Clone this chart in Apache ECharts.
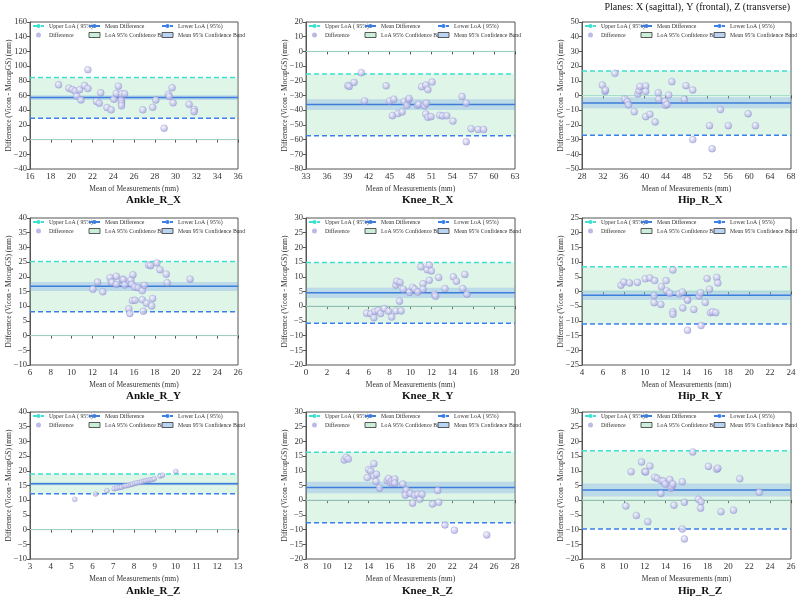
<!DOCTYPE html>
<html>
<head>
<meta charset="utf-8">
<script src="https://cdn.jsdelivr.net/npm/echarts@6/dist/echarts.min.js"></script>
<style>
  html, body { margin: 0; padding: 0; background: #fff; }
  #chart { width: 799px; height: 604px; }
</style>
</head>
<body>
<div id="chart"></div>
<script>
///////////////////////
// data
///////////////////////

const panelTitles = ['Ankle_R_X', 'Knee_R_X', 'Hip_R_X',
                     'Ankle_R_Y', 'Knee_R_Y', 'Hip_R_Y',
                     'Ankle_R_Z', 'Knee_R_Z', 'Hip_R_Z'];

// mean of measurements (x) / difference (y), one pair per panel
const ankleRX_mean = [18.75, 21.57, 19.74, 20.06, 20.35, 20.77, 21.25, 21.57, 20.5, 20.9, 22.4, 22.66, 22.8, 23.4, 23.8, 24.06, 24.3, 24.5, 24.77, 24.8, 24.8, 24.8, 24.8, 25.1, 26.85, 27.8, 28.1, 28.9, 29.3, 29.4, 29.66, 29.76, 31.3, 31.8, 31.78];
const ankleRX_diff = [74.5, 95, 70, 68, 66, 67.7, 73.6, 69.5, 59, 54, 52, 49.5, 63.6, 43.6, 40.5, 55, 62.7, 72.7, 54, 62.3, 52, 49, 46, 62.3, 40.5, 44, 54, 15.5, 61.4, 58.6, 70.5, 50, 48, 41, 38];

const kneeRX_mean = [39, 39.2, 39.9, 40.95, 41.4, 44.5, 45, 45.6, 45.4, 46.2, 46.8, 47.1, 47.5, 47.7, 47.8, 49, 49.2, 49.6, 50.2, 50.5, 50, 50.3, 50.2, 50.5, 50.95, 51.1, 52.2, 52.6, 53.2, 54.1, 55.4, 56, 56, 56.7, 57.7, 58.5];
const kneeRX_diff = [-23.2, -23.8, -21.1, -14.5, -33.7, -23.4, -33.7, -32.5, -43.7, -42.3, -41.2, -34.1, -36.6, -33, -32, -36.6, -36, -24, -22.9, -26, -37, -35.3, -42.6, -44.8, -44.4, -20.9, -43.5, -43.9, -43.7, -47.4, -30.7, -35.2, -61.5, -52.6, -53.1, -53.1];

const hipRX_mean = [31.9, 32.4, 32.5, 34.3, 36.2, 36.7, 36.9, 38, 38.7, 38.9, 39.1, 40.2, 40.2, 40.2, 41, 42, 42.6, 42.7, 43.9, 44, 44.3, 44.6, 45.2, 47.6, 47.9, 49.2, 49.2, 52.4, 52.9, 54.5, 56, 59.8, 61.2];
const hipRX_diff = [7.1, 2.8, 3.7, 15.1, -2.3, -4.2, -6.5, -11, 1.1, 3.2, 6.2, 6.5, 2.8, -14.4, -12.8, -18, 1.8, -2.6, -4, -6.7, -6, 0.3, 9.4, -2.6, 6.7, 3.7, -30, -20.5, -36.2, -9.6, -20.5, -12.4, -20.5];

const ankleRY_mean = [12.05, 12.5, 13, 13.7, 13.8, 13.9, 14.3, 14.3, 14.9, 14.9, 15, 15.1, 15.5, 15.6, 15.7, 15.8, 15.9, 15.85, 16.1, 16.05, 16.4, 16.8, 16.8, 16.9, 17, 17.2, 17.4, 17.6, 17.7, 17.8, 18.2, 18.5, 19.1, 19.2, 21.4];
const ankleRY_diff = [15.8, 18.2, 14.9, 19.7, 18.3, 18.1, 20.2, 17.4, 18.8, 19.2, 19, 17.2, 9.1, 7.5, 19, 17.4, 20.7, 11.9, 12, 16.5, 16.3, 12.2, 15.3, 8.3, 17.1, 11, 24, 23.8, 10.1, 12.6, 24.7, 22.4, 20.9, 18, 19.2];

const kneeRY_mean = [5.8, 6.2, 6.5, 6.6, 6.9, 7.15, 7.5, 7.9, 8.2, 8.6, 8.6, 8.7, 9, 8.95, 9.1, 9.3, 9.9, 10.2, 10.4, 10.7, 11, 11.2, 11.2, 11.6, 11.8, 11.8, 12, 12.3, 12.4, 12.7, 13.3, 14.1, 14.4, 15, 15.2, 15.4];
const kneeRY_diff = [-2.4, -2.6, -3.9, -1.8, -1.5, -2.5, -0.8, -1.7, -3.7, -1.6, 7.2, 8.5, 8.1, 1.7, -1.6, 5.8, 4.7, 6.4, 5.8, 4.8, 13.4, 7.6, 5.8, 12.4, 14, 8.8, 12, 4.1, 3.4, 9.8, 6, 10, 8.5, 6, 10.8, 4.1];

const hipRY_mean = [7.73, 8, 8.55, 9.3, 10.05, 10.5, 10.95, 10.9, 10.9, 11.55, 11.6, 12.05, 12.1, 12.4, 12.7, 12.7, 12.7, 13.3, 13.6, 13.65, 14.1, 14.1, 14.1, 14.7, 15.2, 15.35, 15.4, 15.8, 15.97, 16.2, 16.3, 16.5, 16.8, 16.9, 17];
const hipRY_diff = [2.1, 3.2, 2.9, 3.1, 4.3, 4.6, 3.7, -1.4, -3.8, -4.4, 1.6, 3.7, 0.2, -0.6, 7.3, -6.9, -7.7, -0.85, -0.2, -5.6, -2.7, -3, -13.2, -6.1, -1.5, -0.4, -11.6, -3.7, 4.4, 0.8, -7.2, -6.9, -7.2, 4.8, 2.9];

const ankleRZ_mean = [5.15, 6.15, 6.7, 7.05, 7.17, 7.3, 7.4, 7.53, 7.62, 7.74, 7.85, 7.93, 8.04, 8.14, 8.26, 8.36, 8.47, 8.57, 8.68, 8.78, 8.87, 8.97, 9.26, 9.37, 10.01];
const ankleRZ_diff = [10.3, 12.1, 13.2, 13.9, 14.1, 14.3, 14.4, 14.8, 14.9, 15.1, 15.3, 15.45, 15.7, 15.9, 16, 16.2, 16.5, 16.6, 16.8, 16.9, 17, 17.25, 18.2, 18.5, 19.8];

const kneeRZ_mean = [11.66, 11.85, 12.05, 13.86, 14, 14.2, 14.5, 14.5, 14.75, 14.7, 15.04, 15.77, 15.9, 16.06, 16.2, 16.3, 16.44, 16.5, 16.5, 17.27, 17.5, 17.6, 17.5, 17.97, 18.2, 18.4, 18.7, 18.9, 19.1, 20.1, 20.6, 20.7, 21.3, 22.2, 25.3];
const kneeRZ_diff = [13.7, 14.6, 14, 7.7, 10.4, 9.9, 12.4, 8.2, 8.8, 6.4, 4.1, 6.7, 7.4, 6, 6.5, 5.7, 6.2, 7.2, 5.8, 5.5, 2.6, 3.5, 1.7, 2.3, -1, 1.7, 2, 0.3, 2, -1.3, 3.3, -0.7, -8.4, -10.2, -11.8];

const hipRZ_mean = [10.2, 10.7, 11.2, 11.7, 12, 12.1, 12.3, 12.5, 12.95, 13.2, 13.55, 13.6, 13.8, 13.96, 14.4, 14.5, 14.6, 14.7, 14.8, 15.6, 15.6, 15.8, 15.8, 16.6, 17.15, 17.4, 17.35, 18.1, 18.9, 19, 19.3, 20.5, 21.1, 22.97];
const hipRZ_diff = [-2, 9.7, -5.2, 13, 9.7, 9.6, -7.3, 11.6, 7.8, 7.4, 2.3, 6.6, 6.5, 5.5, 7, 4.1, 4.7, 5.5, -1.7, 6.25, -9.8, -0.7, -13.2, 16.4, 0.3, -0.5, -2.7, 11.5, 10.5, 10.9, -3.9, -3.4, 7.3, 2.7];

const meanSets = [ankleRX_mean, kneeRX_mean, hipRX_mean, ankleRY_mean, kneeRY_mean, hipRY_mean, ankleRZ_mean, kneeRZ_mean, hipRZ_mean];
const diffSets = [ankleRX_diff, kneeRX_diff, hipRX_diff, ankleRY_diff, kneeRY_diff, hipRY_diff, ankleRZ_diff, kneeRZ_diff, hipRZ_diff];

// limits of agreement and confidence band of the mean
const upperLoA   = [84.5, -15.4, 16.7, 25.2, 14.9, 8.45, 18.9, 16.3, 16.8];
const meanDiff   = [57.3, -36.2, -5.1, 16.8, 4.55, -1.3, 15.6, 4.3, 3.5];
const lowerLoA   = [29, -57.4, -27.1, 8.15, -5.8, -11.05, 12.2, -7.7, -9.8];
const meanCILow  = [54, -39.8, -8.7, 15.2, 2.8, -2.9, 15.1, 2.4, 1.25];
const meanCIHigh = [60.5, -32.5, -1.2, 18.2, 6.3, 0.3, 16.1, 6.3, 5.7];

// axis ranges (tick labels)
const xMin  = [16, 33, 28, 6, 0, 4, 3, 8, 6];
const xMax  = [36, 63, 68, 26, 20, 24, 13, 28, 26];
const xStep = [2, 3, 4, 2, 2, 2, 1, 2, 2];
const yMin  = [-40, -80, -50, -10, -20, -25, -10, -20, -20];
const yMax  = [160, 20, 50, 40, 30, 25, 40, 30, 30];
const yStep = [20, 10, 10, 5, 5, 5, 5, 5, 5];

///////////////////////
// layout / style
///////////////////////
const SERIF = "'Liberation Serif', 'Times New Roman', serif";
const colLeft = [30, 306, 582];
const colWidth = [208, 209, 209];
const rowTop = [22, 218, 412];
const plotH = 147;
const titleX = [126, 402, 678];
const titleY = [200, 396, 591];
const legendOffset = [2, 58, 131];

const C_UPPER = '#3fe0d0';
const C_LOWER = '#3b80ea';
const C_MEAN = '#3d7ddb';
const C_ZERO = '#a8dccd';
const LOA_FILL = 'rgba(150, 222, 180, 0.3)';
const MEAN_FILL = 'rgba(110, 155, 230, 0.3)';

const pointColor = {
    type: 'radial', x: 0.38, y: 0.35, r: 0.7,
    colorStops: [{offset: 0, color: '#f6f6ff'}, {offset: 1, color: '#9c9cd8'}]
};

const N_UPPER = 'Upper LoA ( 95%)';
const N_MEAN = 'Mean Difference';
const N_LOWER = 'Lower LoA ( 95%)';
const N_DIFF = 'Difference';
const N_LOABAND = 'LoA 95% Confidence Band';
const N_MEANBAND = 'Mean 95% Confidence Band';

function minusSign(v) {
    return String(v).replace('-', '\u2212');
}

function bandRender(fill) {
    return function (params, api) {
        const cs = params.coordSys;
        const yHi = api.coord([api.value(0), api.value(2)])[1];
        const yLo = api.coord([api.value(0), api.value(1)])[1];
        return {
            type: 'rect',
            shape: {x: cs.x, y: yHi, width: cs.width, height: yLo - yHi},
            style: {fill: fill}
        };
    };
}

const grids = [], xAxes = [], yAxes = [], series = [], legends = [], graphics = [];

for (let i = 0; i < 9; i++) {
    const col = i % 3, row = Math.floor(i / 3);
    const left = colLeft[col], top = rowTop[row];

    grids.push({
        left: left, top: top, width: colWidth[col], height: plotH,
        show: true, borderColor: '#555', borderWidth: 1, backgroundColor: 'transparent'
    });

    xAxes.push({
        gridIndex: i, type: 'value',
        min: xMin[i], max: xMax[i], interval: xStep[i],
        name: 'Mean of Measurements (mm)', nameLocation: 'middle', nameGap: 16,
        nameTextStyle: {fontFamily: SERIF, fontSize: 7.5, color: '#333'},
        axisLine: {lineStyle: {color: '#555', width: 1}},
        axisTick: {show: true, length: 3, lineStyle: {color: '#555'}},
        axisLabel: {fontFamily: SERIF, fontSize: 9, color: '#333', margin: 3, formatter: minusSign},
        splitLine: {show: false}
    });

    yAxes.push({
        gridIndex: i, type: 'value',
        min: yMin[i], max: yMax[i], interval: yStep[i],
        name: 'Difference (Vicon - MocapGS) (mm)', nameLocation: 'middle', nameGap: 17,
        nameMoveOverlap: false,
        nameTextStyle: {fontFamily: SERIF, fontSize: 7.5, color: '#333'},
        axisLine: {lineStyle: {color: '#555', width: 1}},
        axisTick: {show: true, length: 3, lineStyle: {color: '#555'}},
        axisLabel: {fontFamily: SERIF, fontSize: 8.5, color: '#333', margin: 3, formatter: minusSign},
        splitLine: {show: false}
    });

    const xa = xMin[i], xb = xMax[i];

    series.push({
        name: N_LOABAND, type: 'custom', xAxisIndex: i, yAxisIndex: i, z: 1,
        renderItem: bandRender(LOA_FILL),
        itemStyle: {color: '#c9ecd6', borderColor: '#333', borderWidth: 1},
        data: [[xa, lowerLoA[i], upperLoA[i]]],
        silent: true
    });
    series.push({
        name: N_MEANBAND, type: 'custom', xAxisIndex: i, yAxisIndex: i, z: 2,
        renderItem: bandRender(MEAN_FILL),
        itemStyle: {color: '#b8d2f0', borderColor: '#333', borderWidth: 1},
        data: [[xa, meanCILow[i], meanCIHigh[i]]],
        silent: true
    });
    series.push({
        name: 'zero', type: 'line', xAxisIndex: i, yAxisIndex: i, z: 3,
        symbol: 'none', lineStyle: {color: C_ZERO, width: 1},
        data: [[xa, 0], [xb, 0]], silent: true
    });
    series.push({
        name: N_UPPER, type: 'line', xAxisIndex: i, yAxisIndex: i, z: 4,
        symbol: 'none', itemStyle: {color: C_UPPER},
        lineStyle: {color: C_UPPER, width: 1.5, type: [5, 3]},
        data: [[xa, upperLoA[i]], [xb, upperLoA[i]]]
    });
    series.push({
        name: N_MEAN, type: 'line', xAxisIndex: i, yAxisIndex: i, z: 4,
        symbol: 'none', itemStyle: {color: C_MEAN},
        lineStyle: {color: C_MEAN, width: 1.5},
        data: [[xa, meanDiff[i]], [xb, meanDiff[i]]]
    });
    series.push({
        name: N_LOWER, type: 'line', xAxisIndex: i, yAxisIndex: i, z: 4,
        symbol: 'none', itemStyle: {color: C_LOWER},
        lineStyle: {color: C_LOWER, width: 1.5, type: [5, 3]},
        data: [[xa, lowerLoA[i]], [xb, lowerLoA[i]]]
    });
    series.push({
        name: N_DIFF, type: 'scatter', xAxisIndex: i, yAxisIndex: i, z: 6,
        symbolSize: i === 6 ? 5 : 7,
        itemStyle: {color: pointColor, borderColor: 'rgba(120,120,200,0.6)', borderWidth: 0.5},
        data: meanSets[i].map((m, k) => [m, diffSets[i][k]])
    });

    // legend: three columns of two rows inside the plot
    const cols = [
        [{name: N_UPPER}, {name: N_DIFF, icon: 'circle', itemStyle: {color: '#a9a9e0', borderWidth: 0}}],
        [{name: N_MEAN}, {name: N_LOABAND, icon: 'rect', itemStyle: {color: '#cbeed8', borderColor: '#333', borderWidth: 0.8}}],
        [{name: N_LOWER}, {name: N_MEANBAND, icon: 'rect', itemStyle: {color: '#b9d3f2', borderColor: '#333', borderWidth: 0.8}}]
    ];
    cols.forEach((items, c) => {
        legends.push({
            orient: 'vertical',
            left: left + legendOffset[c], top: top + 1,
            itemWidth: 11, itemHeight: 5, itemGap: 3, padding: 0,
            selectedMode: false,
            textStyle: {fontFamily: SERIF, fontSize: 5.8, color: '#333'},
            data: items
        });
    });

    graphics.push({
        type: 'text', left: titleX[col], top: titleY[row] - 5,
        style: {text: panelTitles[i], font: 'bold 11px ' + SERIF, fill: '#111', textAlign: 'center'}
    });
}

graphics.push({
    type: 'text', right: 9, top: 2,
    style: {text: 'Planes: X (sagittal), Y (frontal), Z (transverse)', font: '10px ' + SERIF, fill: '#111'}
});

const chart = echarts.init(document.getElementById('chart'), null, {renderer: 'canvas'});
chart.setOption({
    animation: false,
    backgroundColor: '#fff',
    grid: grids,
    xAxis: xAxes,
    yAxis: yAxes,
    legend: legends,
    series: series,
    graphic: graphics
});
</script>
</body>
</html>
